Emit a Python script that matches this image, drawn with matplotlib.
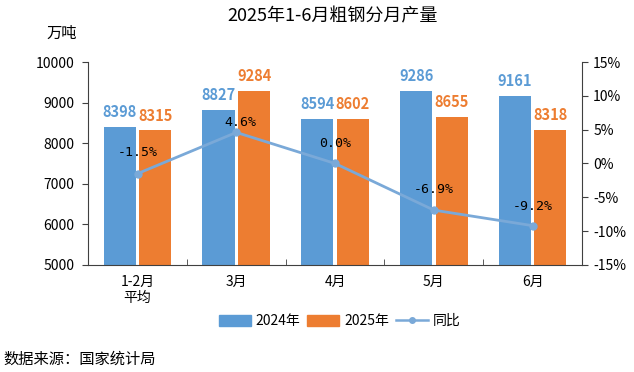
import matplotlib
matplotlib.use('Agg')
import matplotlib.pyplot as plt
import numpy as np
from matplotlib.lines import Line2D
from matplotlib.patches import Patch

plt.rcParams['font.family'] = ['Noto Sans CJK SC', 'DejaVu Sans']

months = ['1-2月\n平均', '3月', '4月', '5月', '6月']
out_2024 = [8398, 8827, 8594, 9286, 9161]
out_2025 = [8315, 9284, 8602, 8655, 8318]
yoy = [-1.5, 4.6, 0.0, -6.9, -9.2]
yoy_text = ['-1.5%', '4.6%', '0.0%', '-6.9%', '-9.2%']

c24 = '#5b9bd5'
c25 = '#ed7d31'
cline = '#7aa9d8'

fig = plt.figure(figsize=(6.34, 3.72), dpi=100)
ax = fig.add_axes([0.139, 0.288, 0.779, 0.545])
x = np.arange(len(months))
w = 0.325
b1 = ax.bar(x - 0.18, out_2024, w, color=c24, zorder=2)
b2 = ax.bar(x + 0.18, out_2025, w, color=c25, zorder=2)

for r, v in zip(b1, out_2024):
    ax.annotate(str(v), (r.get_x() + r.get_width() / 2, v), xytext=(0, 5),
                textcoords='offset points', ha='center', va='bottom',
                fontsize=10.5, fontweight='bold', color=c24)
for r, v in zip(b2, out_2025):
    ax.annotate(str(v), (r.get_x() + r.get_width() / 2, v), xytext=(0, 5),
                textcoords='offset points', ha='center', va='bottom',
                fontsize=10.5, fontweight='bold', color=c25)

ax.set_ylim(5000, 10000)
ax.set_yticks(range(5000, 10001, 1000))
ax.set_xlim(-0.5, 4.5)
ax.set_xticks(x)
ax.set_xticklabels(months, fontsize=10, linespacing=1.25)
ax.set_xticks(np.arange(0.5, 4.5, 1), minor=True)
ax.tick_params(axis='x', which='major', length=0, pad=7)
ax.tick_params(axis='x', which='minor', length=4, direction='in', color='#404040')
ax.tick_params(axis='y', labelsize=10, length=4, color='#404040', pad=6)
for s in ['top', 'right']:
    ax.spines[s].set_visible(False)
for s in ['left', 'bottom']:
    ax.spines[s].set_color('#404040')

ax2 = ax.twinx()
ax2.plot(x, yoy, color=cline, lw=2, marker='o', ms=5, zorder=3)
ax2.set_ylim(-15, 15)
ax2.set_yticks(range(-15, 16, 5))
ax2.set_yticklabels([f'{t}%' for t in range(-15, 16, 5)])
ax2.tick_params(axis='y', labelsize=10, length=4, color='#404040', pad=4)
for s in ['top', 'left', 'bottom']:
    ax2.spines[s].set_visible(False)
ax2.spines['right'].set_color('#404040')

dx = [0, 3, 0, 0, 0]
dy = [15, 7, 14.5, 15, 14]
for xi, v, t, ox, oy in zip(x, yoy, yoy_text, dx, dy):
    ax2.annotate(t, (xi, v), xytext=(ox, oy), textcoords='offset points',
                 ha='center', va='center', fontsize=9.5, family='DejaVu Sans Mono',
                 color='black')

fig.text(0.525, 0.955, '2025年1-6月粗钢分月产量', ha='center', va='center', fontsize=13)
fig.text(0.098, 0.911, '万吨', ha='center', va='center', fontsize=11)
fig.text(0.006, 0.035, '数据来源：国家统计局', ha='left', va='center', fontsize=11)

handles = [Patch(color=c24), Patch(color=c25),
           Line2D([], [], color=cline, lw=1.8, marker='o', ms=4)]
fig.legend(handles, ['2024年', '2025年', '同比'], loc='center', bbox_to_anchor=(0.536, 0.137),
           ncol=3, frameon=False, fontsize=10, handlelength=2.3, handleheight=0.8,
           handletextpad=0.36, columnspacing=0.5)

fig.savefig('out.png', dpi=100)
